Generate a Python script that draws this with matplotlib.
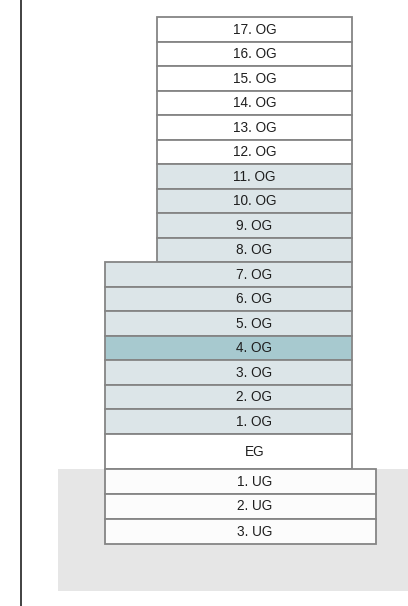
import matplotlib.pyplot as plt
from matplotlib.patches import Rectangle

plt.rcParams['font.family'] = ['Liberation Sans', 'DejaVu Sans']

# floors, top to bottom
upper_floors = ['17. OG', '16. OG', '15. OG', '14. OG', '13. OG', '12. OG',
                '11. OG', '10. OG', '9. OG', '8. OG']
lower_floors = ['7. OG', '6. OG', '5. OG', '4. OG', '3. OG', '2. OG', '1. OG']
ground_floor = ['EG']
basement_floors = ['1. UG', '2. UG', '3. UG']
shaded_floors = ['11. OG', '10. OG', '9. OG', '8. OG', '7. OG', '6. OG',
                 '5. OG', '3. OG', '2. OG', '1. OG']
highlight_floor = '4. OG'

# layout (pixel frame)
W, H = 408, 606
row_h = 24.5
eg_h = 35
ug_h = 25
top = 17
label_x = 254.5

edge = '#858585'
c_white = '#ffffff'
c_shade = '#dce5e8'
c_high = '#a7c9cf'
c_ug = '#fcfcfc'
c_ground = '#e6e6e6'

fig = plt.figure(figsize=(W / 100, H / 100), dpi=100)
ax = fig.add_axes([0, 0, 1, 1])
ax.set_xlim(0, W)
ax.set_ylim(H, 0)
ax.axis('off')

def fill_for(name):
    if name == highlight_floor:
        return c_high
    if name in shaded_floors:
        return c_shade
    if 'UG' in name:
        return c_ug
    return c_white

# building sections: (names, left, right, row height)
sections = [
    (upper_floors, 157, 352, row_h),
    (lower_floors, 105, 352, row_h),
    (ground_floor, 105, 352, eg_h),
    (basement_floors, 105, 376, ug_h),
]

y = top
ug_top = None
for names, x0, x1, h in sections:
    if names is basement_floors:
        ug_top = y
    for name in names:
        ax.barh(y + h / 2, x1 - x0, height=h, left=x0, color=fill_for(name),
                edgecolor=edge, linewidth=1.3, zorder=2)
        ax.text(label_x, y + h / 2 + 0.5, name, ha='center', va='center',
                fontsize=9.8, color='#1e1e1e', zorder=3)
        y += h

# ground / soil area
ax.add_patch(Rectangle((58, ug_top), W - 58, 591 - ug_top,
                       facecolor=c_ground, edgecolor='none', zorder=1))

# vertical axis line on the left
ax.plot([20.5, 20.5], [0, H], color='#333333', linewidth=1.3, zorder=4)

fig.savefig('out.png', dpi=100)
